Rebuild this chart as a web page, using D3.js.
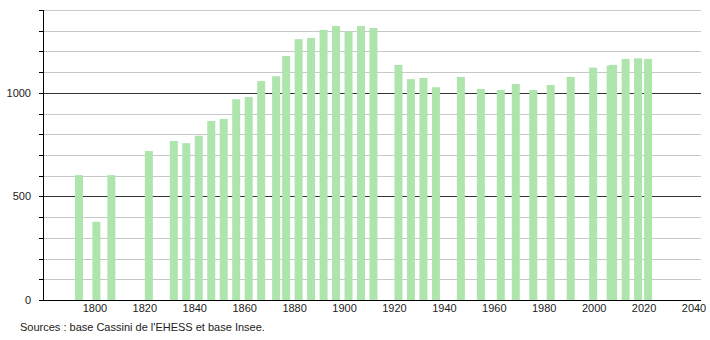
<!DOCTYPE html>
<html>
<meta charset="utf-8">
<script src="https://cdn.jsdelivr.net/npm/d3@7"></script>
<style>
body{ margin:0; background:white; }
.grid{ stroke:#c8c8c8; stroke-width:1; }
.gridMajor{ stroke:#333; stroke-width:1; }
text{ font-family:"Liberation Sans", Arial, sans-serif; font-size:11px; fill:#222; }
</style>
<body>
<div id="chart"></div>
<script>
// census years and population
var years = [1793,1800,1806,1821,1831,1836,1841,1846,1851,1856,1861,1866,1872,1876,1881,1886,1891,1896,1901,1906,1911,
             1921,1926,1931,1936,1946,1954,1962,1968,1975,1982,1990,1999,2006,2007,2012,2017,2021];
var population = [603,378,603,719,768,757,793,864,874,969,980,1057,1080,1178,1259,1265,1304,1323,1297,1323,1313,
                  1135,1066,1072,1027,1077,1019,1014,1043,1014,1038,1077,1122,1131,1135,1164,1167,1164];
var xTicks = [1800,1820,1840,1860,1880,1900,1920,1940,1960,1980,2000,2020,2040];
var yTicks = [0,500,1000];
var yGrid = d3.range(0,1401,100);

var width = 710, height = 340;
var plotLeft = 43, plotRight = 701, plotTop = 10, plotBottom = 300;

var svg = d3.select("#chart").append("svg").attr("width",width).attr("height",height);

var x = d3.scaleLinear().domain([1779.2,2042.8]).range([plotLeft,plotRight]);
var y = d3.scaleLinear().domain([0,1400]).range([plotBottom,plotTop]);

// gridlines
svg.append("g").selectAll("line").data(yGrid.filter(function(d){return d>0}))
  .enter().append("line")
  .attr("class",function(d){ return d%500==0 ? "gridMajor" : "grid"; })
  .attr("x1",plotLeft).attr("x2",plotRight)
  .attr("y1",function(d){return Math.round(y(d))+0.5})
  .attr("y2",function(d){return Math.round(y(d))+0.5});

// bars
var barW = 8;
svg.append("g").selectAll("rect").data(years)
  .enter().append("rect")
  .attr("x",function(d){ return x(d)+1.5-barW/2; })
  .attr("width",barW)
  .attr("y",function(d,i){ return y(population[i]); })
  .attr("height",function(d,i){ return y(0)-y(population[i]); })
  .attr("fill","#ade5ad");

// y axis
var yAxis = svg.append("g");
yAxis.append("line").attr("x1",plotLeft+0.5).attr("x2",plotLeft+0.5).attr("y1",plotTop).attr("y2",plotBottom).attr("stroke","#000");
yAxis.selectAll(".tick").data(yGrid).enter().append("line")
  .attr("x1",plotLeft-4).attr("x2",plotLeft)
  .attr("y1",function(d){return Math.round(y(d))+0.5})
  .attr("y2",function(d){return Math.round(y(d))+0.5})
  .attr("stroke","#000");
yAxis.selectAll("text").data(yTicks).enter().append("text")
  .attr("x",31).attr("y",function(d){return y(d)+4})
  .attr("text-anchor","end")
  .text(function(d){return d});

// x axis
svg.append("line").attr("x1",plotLeft).attr("x2",plotRight)
  .attr("y1",plotBottom+0.5).attr("y2",plotBottom+0.5).attr("stroke","#000");
svg.append("g").selectAll("text").data(xTicks).enter().append("text")
  .attr("x",function(d){return x(d)}).attr("y",plotBottom+12)
  .attr("text-anchor","middle")
  .text(function(d){return d});

svg.append("text").attr("x",20).attr("y",331)
  .text("Sources : base Cassini de l'EHESS et base Insee.");
</script>
</body>
</html>
